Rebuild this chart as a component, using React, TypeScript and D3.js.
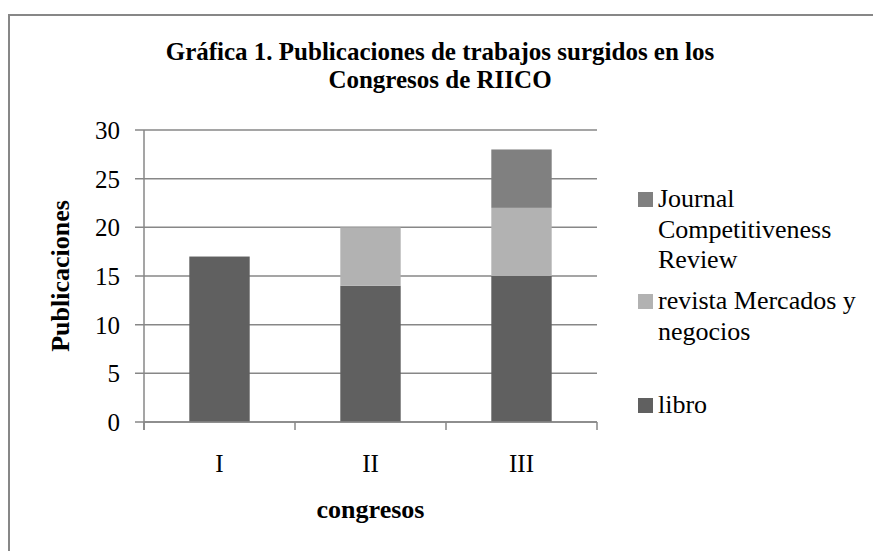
import * as d3 from "d3";
import { useEffect, useRef } from "react";

// categories (congresos)
const congresos = ["I", "II", "III"];
// series values, stacked bottom to top
const libro = [17, 14, 15];
const revista = [0, 6, 7];
const journal = [0, 0, 6];
const yTicks = [0, 5, 10, 15, 20, 25, 30];

const seriesNames = ["libro", "revista", "journal"];
const seriesColors = ["#606060", "#b2b2b2", "#808080"];
const legendLabels = [
    ["Journal", "Competitiveness", "Review"],
    ["revista Mercados y", "negocios"],
    ["libro"],
];

const App = () => {
    const ref = useRef<SVGSVGElement | null>(null);

    useEffect(() => {
        if (!ref.current) return;
        const svg = d3.select(ref.current);
        svg.selectAll("*").remove();

        const font = "'Liberation Serif', 'Times New Roman', serif";
        const grid = "#878787";

        // chart border
        svg.append("rect")
            .attr("x", 9).attr("y", 15)
            .attr("width", 880).attr("height", 560)
            .attr("fill", "white")
            .attr("stroke", grid).attr("stroke-width", 2);

        const margin = { top: 130, left: 144 };
        const width = 453, height = 292;

        const g = svg.append("g")
            .attr("transform", `translate(${margin.left},${margin.top})`);

        const x = d3.scaleBand().domain(congresos).range([0, width]).paddingInner(0.6).paddingOuter(0.3);
        const xTickScale = d3.scaleLinear().domain([0, congresos.length]).range([0, width]);
        const y = d3.scaleLinear().domain([0, 30]).range([height, 0]);

        // gridlines
        g.selectAll(".grid").data(yTicks).join("line")
            .attr("x1", -9).attr("x2", width)
            .attr("y1", d => y(d)).attr("y2", d => y(d))
            .attr("stroke", grid).attr("stroke-width", 1.5);

        // y tick labels
        g.selectAll(".ylab").data(yTicks).join("text")
            .attr("x", -24).attr("y", d => y(d) + 9)
            .attr("text-anchor", "end")
            .style("font-family", font).style("font-size", "25px")
            .text(d => d);

        // stacked bars
        const table = congresos.map((c, i) => ({ c, libro: libro[i], revista: revista[i], journal: journal[i] }));
        const stack = d3.stack<any>().keys(seriesNames)(table);
        stack.forEach((s, si) => {
            g.append("g").selectAll("rect").data(s.filter(d => d[1] > d[0])).join("rect")
                .attr("x", d => x(d.data.c)!)
                .attr("y", d => y(d[1]))
                .attr("width", x.bandwidth())
                .attr("height", d => y(d[0]) - y(d[1]))
                .attr("fill", seriesColors[si]);
        });

        // axes
        g.append("line").attr("x1", 0).attr("x2", 0).attr("y1", 0).attr("y2", height + 8)
            .attr("stroke", grid).attr("stroke-width", 1.5);
        g.append("line").attr("x1", 0).attr("x2", width).attr("y1", height).attr("y2", height)
            .attr("stroke", grid).attr("stroke-width", 1.5);
        g.selectAll(".xtick").data(d3.range(congresos.length + 1)).join("line")
            .attr("x1", d => xTickScale(d)).attr("x2", d => xTickScale(d))
            .attr("y1", height).attr("y2", height + 8)
            .attr("stroke", grid).attr("stroke-width", 1.5);

        g.selectAll(".xlab").data(congresos).join("text")
            .attr("x", d => x(d)! + x.bandwidth() / 2)
            .attr("y", height + 50)
            .attr("text-anchor", "middle")
            .style("font-family", font).style("font-size", "25px")
            .text(d => d);

        // axis titles
        g.append("text")
            .attr("x", width / 2).attr("y", height + 96)
            .attr("text-anchor", "middle")
            .style("font-family", font).style("font-size", "26px").style("font-weight", "bold")
            .text("congresos");

        g.append("text")
            .attr("transform", `translate(${69 - margin.left},${height / 2}) rotate(-90)`)
            .attr("text-anchor", "middle")
            .style("font-family", font).style("font-size", "26px").style("font-weight", "bold")
            .text("Publicaciones");

        // title
        const title = svg.append("text")
            .attr("text-anchor", "middle")
            .style("font-family", font).style("font-size", "25px").style("font-weight", "bold");
        title.append("tspan").attr("x", 440).attr("y", 60).text("Gráfica 1. Publicaciones de trabajos surgidos en los");
        title.append("tspan").attr("x", 440).attr("y", 88).text("Congresos de RIICO");

        // legend
        const legendTop = [192, 294, 398];
        const legendColors = [seriesColors[2], seriesColors[1], seriesColors[0]];
        legendLabels.forEach((lines, i) => {
            svg.append("rect")
                .attr("x", 638).attr("y", legendTop[i])
                .attr("width", 15).attr("height", 15)
                .attr("fill", legendColors[i]);
            const t = svg.append("text")
                .style("font-family", font).style("font-size", "26px");
            lines.forEach((ln, j) => {
                t.append("tspan").attr("x", 658).attr("y", legendTop[i] + 15 + j * 30.5).text(ln);
            });
        });
    }, []);

    return <svg width={873} height={551} ref={ref}
        style={{ display: "block", position: "absolute", left: 0, top: 0 }} />;
};

export default App;
